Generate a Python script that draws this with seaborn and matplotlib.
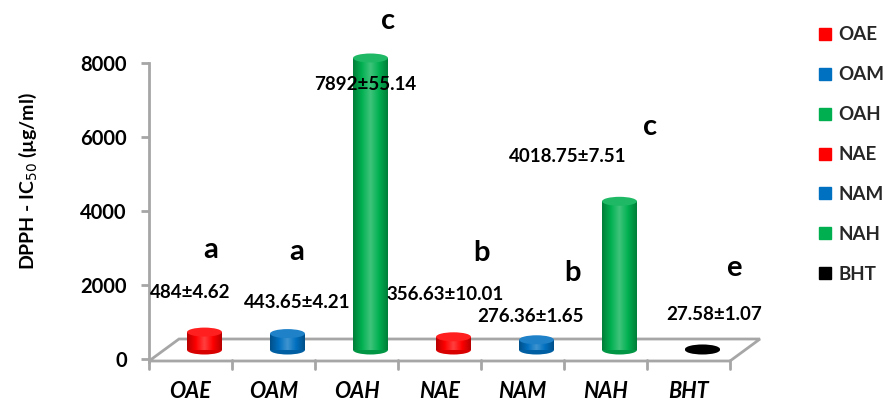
import numpy as np
import pandas as pd
import matplotlib
matplotlib.use("Agg")
import matplotlib.pyplot as plt
import matplotlib.transforms as mtransforms
from matplotlib.patches import Ellipse, Polygon
from matplotlib.lines import Line2D
from matplotlib.colors import LinearSegmentedColormap, to_rgb
import seaborn as sns

# ---- data -------------------------------------------------------------
extracts = ["OAE", "OAM", "OAH", "NAE", "NAM", "NAH", "BHT"]
ic50_mean = [484, 443.65, 7892, 356.63, 276.36, 4018.75, 27.58]
ic50_sd = [4.62, 4.21, 55.14, 10.01, 1.65, 7.51, 1.07]
groups = ["a", "a", "c", "b", "b", "c", "e"]
bar_colors = ["#FF0000", "#0070C0", "#00B050", "#FF0000", "#0070C0", "#00B050", "#000000"]
y_ticks = [0, 2000, 4000, 6000, 8000]

# label anchors (category units, value units)
value_label_xy = [(0.0, 1784), (1.28, 1514), (2.10, 7432), (3.07, 1730),
                  (4.10, 1162), (4.54, 5486), (6.31, 1216)]
group_label_xy = [(0.24, 2946), (1.28, 2892), (2.38, 9135), (3.51, 2865),
                  (4.60, 2324), (5.54, 6270), (6.54, 2459)]

df = pd.DataFrame({"extract": extracts, "ic50": ic50_mean})

sns.set_theme(style="white")
plt.rcParams["font.family"] = ["Lato", "DejaVu Sans"]

W, H, DPI = 884, 403, 100
fig = plt.figure(figsize=(W / DPI, H / DPI), dpi=DPI)
ax_l, ax_r, ax_b, ax_t = 149, 730, 359, 63          # pixel frame of the plot area
ax = fig.add_axes([ax_l / W, (H - ax_b) / H, (ax_r - ax_l) / W, (ax_b - ax_t) / H])

bar_w = 0.42
sns.barplot(data=df, x="extract", y="ic50", hue="extract", palette=bar_colors,
            order=extracts, hue_order=extracts, width=bar_w, legend=False,
            saturation=1, ax=ax, linewidth=0)
ax.set_xlim(-0.5, len(extracts) - 0.5)
ax.set_ylim(0, 8000)

# bars stand in the middle of the 3-D floor: shift them back/up a little
depth = mtransforms.ScaledTranslation(14 / DPI, 9 / DPI, fig.dpi_scale_trans)
bar_tr = ax.transData + depth
px_per_val = (ax_b - ax_t) / 8000
cap_h = 9 / px_per_val


def shade_map(c):
    r, g, b = to_rgb(c)
    dark = (r * 0.72, g * 0.72, b * 0.72)
    light = tuple(min(1, v + (1 - v) * 0.25) for v in (r, g, b))
    if c == "#000000":
        dark, light = (0, 0, 0), (0.15, 0.15, 0.15)
    return LinearSegmentedColormap.from_list("cyl", [dark, (r, g, b), light, (r, g, b), dark])


for patch, val, col in zip(ax.patches, ic50_mean, bar_colors):
    patch.set_transform(bar_tr)
    patch.set_clip_box(fig.bbox)
    x0 = patch.get_x()
    cmap = shade_map(col)
    grad = np.linspace(0, 1, 64).reshape(1, -1)
    im = ax.imshow(grad, cmap=cmap, aspect="auto", extent=(x0, x0 + bar_w, 0, val),
                   transform=bar_tr, zorder=2)
    im.set_clip_box(fig.bbox)
    im.set_clip_path(patch)
    xc = x0 + bar_w / 2
    r, g, b = to_rgb(col)
    bottom = Ellipse((xc, 0), bar_w, cap_h, transform=bar_tr,
                     facecolor=(r * 0.85, g * 0.85, b * 0.85), edgecolor="none",
                     zorder=1.9, clip_on=False)
    top_col = tuple(min(1, v + (1 - v) * 0.12) for v in (r, g, b)) if col != "#000000" else (0, 0, 0)
    top = Ellipse((xc, val), bar_w, cap_h, transform=bar_tr,
                  facecolor=top_col, edgecolor="none", zorder=3, clip_on=False)
    ax.add_patch(bottom)
    ax.add_patch(top)
ax.set_xlim(-0.5, len(extracts) - 0.5)
ax.set_ylim(0, 8000)

# 3-D floor outline
grey = "#A6A6A6"
aw, ah = ax_r - ax_l, ax_b - ax_t
dx, dy = 30 / aw, 20 / ah
floor = Polygon([(0, -2 / ah), (1, -2 / ah), (1 + dx, dy), (dx, dy)], closed=True,
                transform=ax.transAxes, facecolor="white", edgecolor=grey,
                linewidth=2, clip_on=False, zorder=0.5)
ax.add_patch(floor)

# axes styling
for s in ["top", "right", "bottom"]:
    ax.spines[s].set_visible(False)
ax.spines["left"].set_color(grey)
ax.spines["left"].set_linewidth(2)
ax.spines["left"].set_bounds(-80, 8000)
ax.set_yticks(y_ticks)
ax.set_yticklabels([str(t) for t in y_ticks], fontsize=14.5, fontweight="bold", color="black")
ax.tick_params(axis="y", left=True, length=6, width=2, color=grey, pad=10)
ax.set_xticks(range(len(extracts)))
ax.set_xticklabels(extracts, fontsize=15.5, fontweight="bold", fontstyle="italic", color="black")
ax.tick_params(axis="x", bottom=False, pad=10)
# category dividers on the floor front edge
for i in range(len(extracts) + 1):
    ax.plot([i - 0.5, i - 0.5], [-20, -270], color=grey, lw=2, clip_on=False, zorder=0.6)
ax.set_xlabel("")
ax.set_ylabel("DPPH - IC$_{50}$ (µg/ml)", fontsize=14, fontweight="bold", color="black")
ax.yaxis.set_label_coords(-0.19, 0.6)
ax.grid(False)
ax.patch.set_visible(False)

# value and significance labels
for (x, y), m, s in zip(value_label_xy, ic50_mean, ic50_sd):
    ax.text(x, y, f"{m:g}±{s:g}", ha="center", va="center", fontsize=13.5,
            fontweight="bold", color="black", zorder=5, clip_on=False)
for (x, y), g in zip(group_label_xy, groups):
    ax.text(x, y, g, ha="center", va="center", fontsize=21, fontweight="bold",
            color="black", zorder=5, clip_on=False)

# legend
handles = [Line2D([], [], marker="s", linestyle="none", markersize=9,
                  markerfacecolor=c, markeredgecolor=c) for c in bar_colors]
fig.legend(handles, extracts, loc="upper left", bbox_to_anchor=(808 / W, 1 - 19 / H),
           frameon=False, prop={"weight": "bold", "size": 13.5},
           labelspacing=1.22, handletextpad=0.2, handlelength=1.0, borderaxespad=0)

fig.savefig("out.png", dpi=DPI, facecolor="white")
